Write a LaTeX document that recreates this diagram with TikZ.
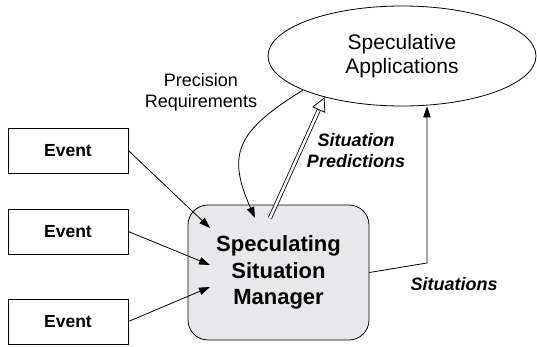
\documentclass[tikz,border=0pt]{standalone}
\usepackage{fontspec}
\setmainfont{Liberation Sans}
\usepackage{tikz}
\usetikzlibrary{arrows.meta, shapes.geometric, calc}

\begin{document}
\begin{tikzpicture}[
    x=1pt, y=1pt,
    >={Triangle[length=11pt,width=7.5pt]},
    line width=0.8pt,
    eventbox/.style={draw, minimum width=120pt, minimum height=45pt,
        font=\fontsize{17.5}{21}\selectfont\bfseries},
    annot/.style={align=center, font=\fontsize{18}{21}\selectfont},
    flowtext/.style={align=center, font=\fontsize{18}{21}\selectfont\bfseries\itshape}
]
\useasboundingbox (0,0) rectangle (537,346);

%-------------------------
% Events
%-------------------------
\node[eventbox] (ev1) at (68,195.5) {Event};
\node[eventbox] (ev2) at (68,114.5) {Event};
\node[eventbox] (ev3) at (68,24.5) {Event};

%-------------------------
% Situation manager
%-------------------------
\node[draw, rounded corners=20pt, fill={rgb,255:red,232;green,232;blue,235},
    minimum width=181pt, minimum height=135pt, align=center,
    font=\fontsize{22}{26.5}\selectfont\bfseries] (mgr) at (278.5,73.5)
    {Speculating\\Situation\\Manager};

% Ends inside the manager
\coordinate (in1) at (210,118);
\coordinate (in2) at (210,81);
\coordinate (in3) at (210,59);
\coordinate (req) at (255,128);
\coordinate (pred) at (270,128);
\coordinate (bend) at (427,83);

%-------------------------
% Applications
%-------------------------
\node[draw, ellipse, minimum width=268pt, minimum height=100pt, inner sep=0pt,
    align=center, font=\fontsize{21}{24}\selectfont] (app) at (402,290)
    {Speculative\\Applications};
\coordinate (predtip) at (app.208);

%-------------------------
% Event arrows
%-------------------------
\draw[->] (ev1.east) -- (in1);
\draw[->] (ev2.east) -- (in2);
\draw[->] (ev3.east) -- (in3);

%-------------------------
% Precision requirements
%-------------------------
\draw[->] (app.199) .. controls (236.4,214.8) and (226.5,192) .. (req);
\node[annot] (prec) at (201,254) {Precision\\Requirements};

%-------------------------
% Predictions
%-------------------------
\draw[double, double distance=2.5pt, shorten >=14pt] (pred) -- (predtip);
\draw[-{Triangle[open,length=14pt,width=14pt]}]
    ($(predtip)!14.5pt!(pred)$) -- (predtip);
\node[flowtext] (predtext) at (356,195) {Situation\\Predictions};

%-------------------------
% Situations
%-------------------------
\draw[->] (mgr.east) -- (bend) -- (bend |- app.south);
\node[flowtext] (sittext) at (454,62) {Situations};
\end{tikzpicture}
\end{document}
